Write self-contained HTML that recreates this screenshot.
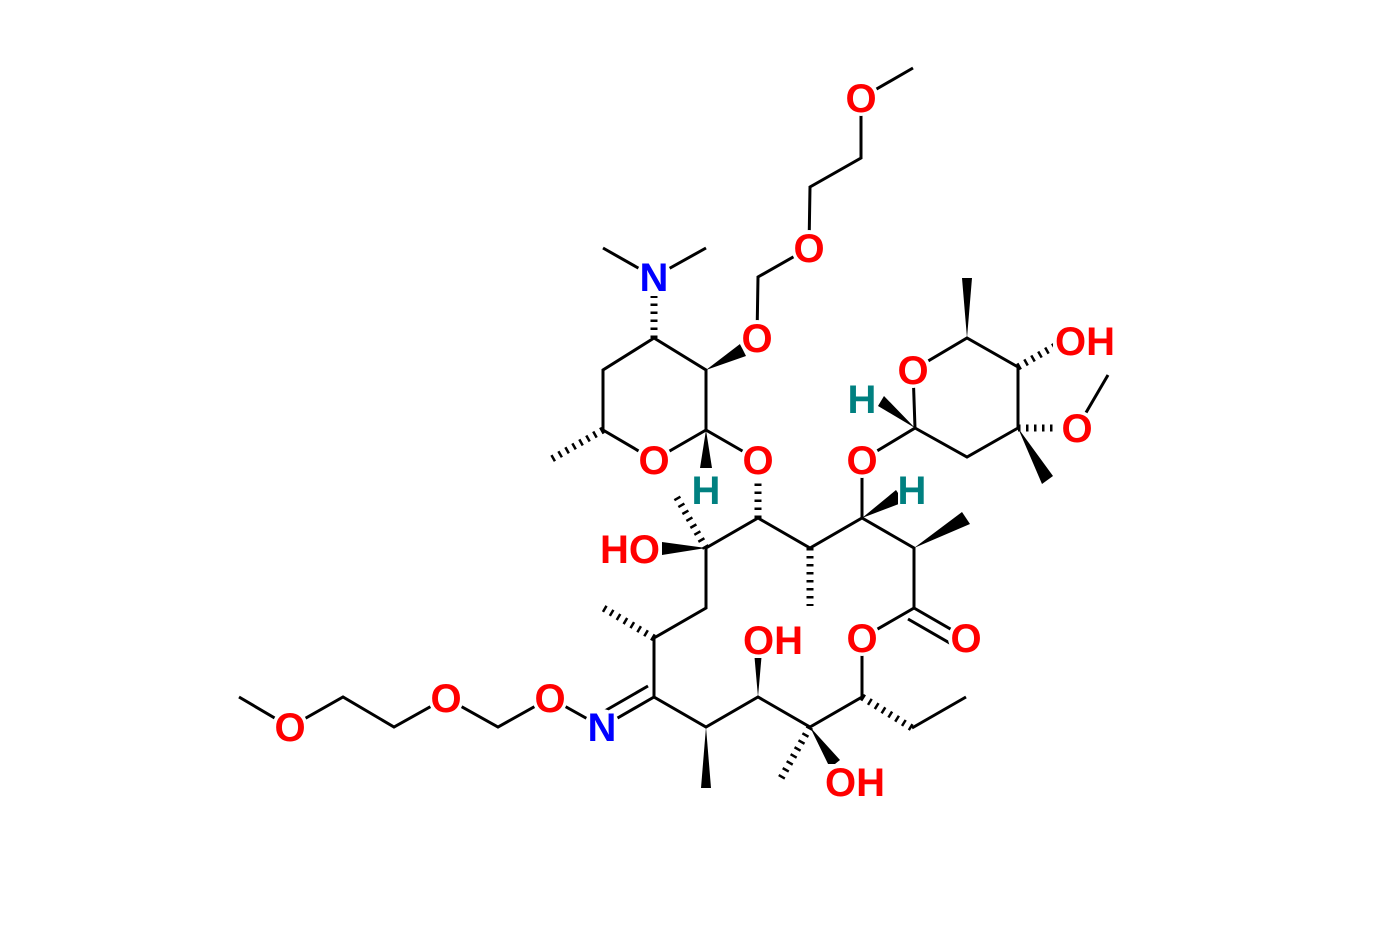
<!DOCTYPE html>
<html><head><meta charset="utf-8"><style>
html,body{margin:0;padding:0;background:#fff;}
svg{display:block;}
text{font-family:"Liberation Sans",Arial,sans-serif;font-weight:bold;font-size:40px;text-anchor:middle;}
.o{fill:#ff0000}.n{fill:#0000ff}.h{fill:#008080}
</style></head><body>
<svg width="1383" height="950" viewBox="0 0 1383 950" xmlns="http://www.w3.org/2000/svg">
<g stroke="#000" stroke-width="3" fill="none" stroke-linecap="butt">
<polyline points="654,638 654,697 706,727 758,697 810,727 862,697 862,638 914,608 914,548 862,518 810,548 758,518 706,548 706,608 654,638"/>
<line x1="654" y1="697" x2="602" y2="727"/><line x1="648" y1="686" x2="596" y2="716"/>
<line x1="912" y1="728" x2="966" y2="697"/>
<line x1="914" y1="608" x2="966" y2="638"/><line x1="908" y1="619" x2="960" y2="649"/>
<line x1="862" y1="518" x2="862" y2="460"/>
<polyline points="602,727 550,698 498,727 446,698 394,727 343,697 290,727 239,697"/>
<polyline points="706,430 654,460 603,430 603,370 654,338 706,370 706,430 758,460"/>
<line x1="654" y1="277" x2="603" y2="248"/><line x1="654" y1="277" x2="706" y2="248"/>
<polyline points="757,338 758,277 809,248 810,187 861,158 861,98 913,68"/>
<polyline points="862,460 915,428 913,370 967,338 1018,367 1018,428 967,457 915,428"/>
<line x1="1077" y1="428" x2="1108" y2="375"/>
</g>
<g fill="#000">
<polygon points="706,727 701,788 711,788"/>
<polygon points="758,697 753,640 763,640"/>
<polygon points="810,727 830,768 840,760"/>
<polygon points="914,548 962,512 970,524"/>
<polygon points="862,518 896,490 904,502"/>
<polygon points="706,548 662,542 662,555"/>
<polygon points="706,370 740,344 746,356"/>
<polygon points="706,430 700,468 712,468"/>
<polygon points="967,338 962,278 972,278"/>
<polygon points="1018,428 1042,484 1053,476"/>
<polygon points="915,428 878,406 884,396"/>
</g>
<g stroke="#000" stroke-width="7" stroke-dasharray="2.5,5.5" fill="none">
<line x1="862" y1="697" x2="912" y2="728"/>
<line x1="810" y1="727" x2="780" y2="780"/>
<line x1="810" y1="548" x2="810" y2="606"/>
<line x1="758" y1="518" x2="758" y2="478"/>
<line x1="706" y1="548" x2="676" y2="496"/>
<line x1="654" y1="638" x2="600" y2="606"/>
<line x1="603" y1="430" x2="550" y2="460"/>
<line x1="654" y1="338" x2="654" y2="296"/>
<line x1="1018" y1="367" x2="1062" y2="342"/>
<line x1="1018" y1="428" x2="1058" y2="428"/>
</g>
<g fill="#fff">
<circle cx="602" cy="727" r="18"/><circle cx="550" cy="698" r="18"/><circle cx="446" cy="698" r="18"/>
<circle cx="290" cy="727" r="18"/><circle cx="862" cy="638" r="18"/><circle cx="966" cy="638" r="18"/>
<circle cx="862" cy="460" r="18"/><circle cx="758" cy="460" r="18"/><circle cx="654" cy="460" r="18"/>
<circle cx="654" cy="277" r="18"/><circle cx="757" cy="338" r="18"/><circle cx="809" cy="248" r="18"/>
<circle cx="861" cy="98" r="18"/><circle cx="913" cy="370" r="18"/><circle cx="1077" cy="428" r="18"/>
<rect x="741" y="622" width="64" height="36"/><rect x="823" y="764" width="64" height="36"/>
<rect x="598" y="530" width="64" height="36"/><rect x="1053" y="322" width="64" height="36"/>
<rect x="692" y="474" width="28" height="34"/><rect x="898" y="474" width="28" height="34"/>
</g>
<text x="602" y="741" class="n">N</text>
<text x="550" y="712" class="o">O</text>
<text x="446" y="712" class="o">O</text>
<text x="290" y="741" class="o">O</text>
<text x="773" y="654" class="o">OH</text>
<text x="855" y="796" class="o">OH</text>
<text x="862" y="652" class="o">O</text>
<text x="966" y="652" class="o">O</text>
<text x="862" y="474" class="o">O</text>
<text x="758" y="474" class="o">O</text>
<text x="630" y="563" class="o">HO</text>
<text x="706" y="504" class="h">H</text>
<text x="912" y="504" class="h">H</text>
<text x="654" y="474" class="o">O</text>
<text x="654" y="291" class="n">N</text>
<text x="757" y="352" class="o">O</text>
<text x="809" y="262" class="o">O</text>
<text x="861" y="112" class="o">O</text>
<text x="913" y="384" class="o">O</text>
<text x="862" y="413" class="h">H</text>
<text x="1085" y="355" class="o">OH</text>
<text x="1077" y="442" class="o">O</text>
</svg>
</body></html>
